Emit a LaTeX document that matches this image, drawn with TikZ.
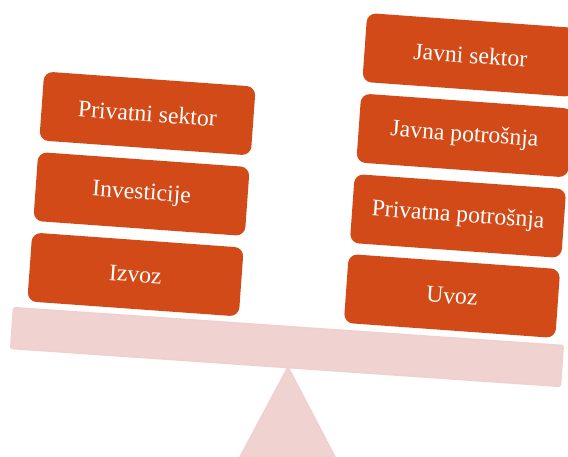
\documentclass[tikz,border=0pt]{standalone}
\usepackage{fontspec}
\setmainfont{Liberation Serif}
\definecolor{boxfill}{HTML}{D24A17}
\definecolor{palefill}{HTML}{F0D2D0}
\definecolor{paleedge}{HTML}{EFD0CE}
\tikzset{
  weight/.style={draw=none,fill=boxfill,rounded corners=9,minimum width=212pt,minimum height=69pt,
    inner sep=0pt,rotate=-4.1,text=white,font=\fontsize{23.7}{26}\selectfont},
  beam/.style={draw=paleedge,line width=1.5pt,fill=palefill,minimum width=551pt,minimum height=41pt,
    inner sep=0pt,rotate=-3.95,rounded corners=1.5},
  pivot/.style={draw=paleedge,line width=1.5pt,fill=palefill,line join=round}
}
\begin{document}
\begin{tikzpicture}[x=1pt,y=-1pt]
\clip (0,0) rectangle (568,457);
\path[pivot] (288,367) -- (335,457) -- (240,457) -- cycle;
\node[beam] (balance) at (287,347) {};
\node[weight] (a1) at (147.5,113.5) {Privatni sektor};
\node[weight] (a2) at (141.5,194) {Investicije};
\node[weight] (a3) at (135.5,274.5) {Izvoz};
\node[weight] (b1) at (470.5,55) {Javni sektor};
\node[weight] (b2) at (464.5,135.5) {Javna potrošnja};
\node[weight] (b3) at (458,216) {Privatna potrošnja};
\node[weight] (b4) at (452,296) {Uvoz};
\end{tikzpicture}
\end{document}
